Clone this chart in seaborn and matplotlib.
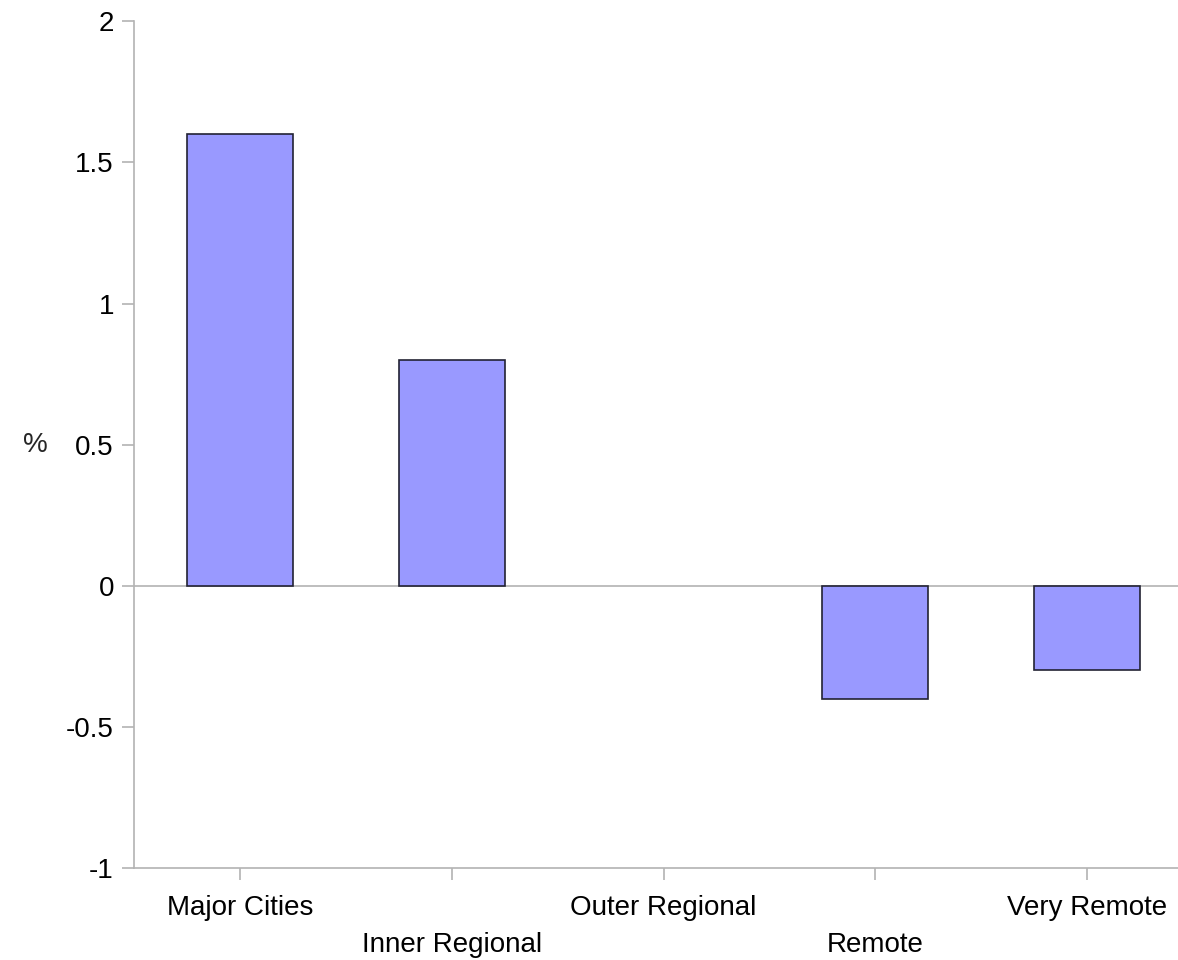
import matplotlib
matplotlib.use("Agg")
import matplotlib.pyplot as plt
import seaborn as sns
import pandas as pd

# Data
regions = ["Major Cities", "Inner Regional", "Outer Regional", "Remote", "Very Remote"]
change_pct = [1.6, 0.8, 0.0, -0.4, -0.3]
y_ticks = [-1, -0.5, 0, 0.5, 1, 1.5, 2]
y_tick_labels = ["-1", "-0.5", "0", "0.5", "1", "1.5", "2"]

sns.set_style("white")
plt.rcParams["font.family"] = ["Liberation Sans", "DejaVu Sans"]
plt.rcParams["axes.unicode_minus"] = False

AXIS_GREY = "#b3b3b3"

df = pd.DataFrame({"region": regions, "pct": change_pct})

fig = plt.figure(figsize=(11.78, 9.6), dpi=100)
ax = fig.add_axes([0.1138, 0.0958, 0.899, 0.882])

sns.barplot(data=df, x="region", y="pct", order=regions, color="#9999ff",
            saturation=1, width=0.5, edgecolor="#222233", linewidth=1.2, ax=ax)

# zero-height bar should not leave a dark line
for p in ax.patches:
    if p.get_height() == 0:
        p.set_linewidth(0)

ax.axhline(0, color=AXIS_GREY, lw=1.2, zorder=0)

ax.set_ylim(-1, 2)
ax.set_xlim(-0.5, len(regions) - 0.5)
ax.set_yticks(y_ticks)
ax.set_yticklabels(y_tick_labels)

for side in ["top", "right"]:
    ax.spines[side].set_visible(False)
for side in ["left", "bottom"]:
    ax.spines[side].set_color(AXIS_GREY)
    ax.spines[side].set_linewidth(1.2)

ax.tick_params(axis="both", colors=AXIS_GREY, labelcolor="black",
               labelsize=20, length=8.5, width=1.2, direction="out",
               bottom=True, left=True)
ax.tick_params(axis="y", pad=6)
ax.tick_params(axis="x", pad=11)

# stagger the category labels on two rows
for i, tick in enumerate(ax.xaxis.get_major_ticks()):
    if i % 2 == 1:
        tick.set_pad(11 + 26.5)

ax.set_xlabel("")
ax.set_ylabel("%", fontsize=20, rotation=0, labelpad=22, va="center")

fig.savefig("out.png", dpi=100)
plt.close(fig)
